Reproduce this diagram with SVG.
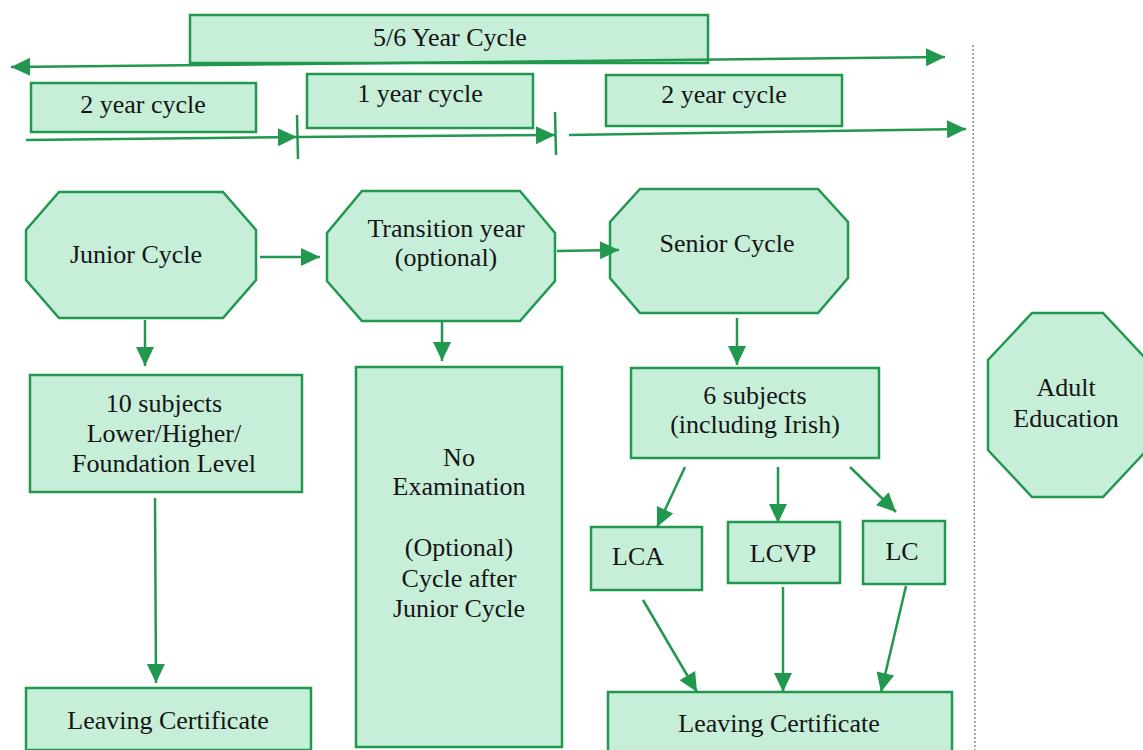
<svg xmlns="http://www.w3.org/2000/svg" width="1143" height="750" viewBox="0 0 1143 750">
  <style>
    .box { fill: #c6eed8; stroke: #22984f; stroke-width: 2.5; }
    .lbl { font-family: "Liberation Serif", "Times New Roman", serif; font-size: 26px; fill: #151515; text-anchor: middle; }
    .edge { stroke: #22984f; stroke-width: 2.5; fill: none; }
    .tick { stroke: #22984f; stroke-width: 2.5; }
    .divider { stroke: #8a8a8a; stroke-width: 1.5; stroke-dasharray: 2 2; }
  </style>
  <defs>
    <marker id="arrow" markerUnits="userSpaceOnUse" markerWidth="22" markerHeight="22" viewBox="0 0 22 22" refX="20" refY="11" orient="auto-start-reverse">
      <path d="M1,2 L20,11 L1,20 Z" fill="#22984f"/>
    </marker>
  </defs>

  <rect width="1143" height="750" fill="#ffffff"/>

  <!-- timeline header -->
  <g id="cycle-5-6">
    <rect class="box" x="190" y="15" width="518" height="48"/>
    <text class="lbl" x="450" y="46">5/6 Year Cycle</text>
  </g>
  <g id="cycle-2-junior">
    <rect class="box" x="31" y="83" width="225" height="49"/>
    <text class="lbl" x="143" y="113">2 year cycle</text>
  </g>
  <g id="cycle-1">
    <rect class="box" x="307" y="74" width="226" height="54"/>
    <text class="lbl" x="420" y="102">1 year cycle</text>
  </g>
  <g id="cycle-2-senior">
    <rect class="box" x="606" y="75" width="236" height="51"/>
    <text class="lbl" x="724" y="103">2 year cycle</text>
  </g>

  <!-- vertical divider before adult education -->
  <line class="divider" x1="973" y1="45" x2="975" y2="750"/>

  <!-- main stages -->
  <g id="junior-cycle">
    <polygon class="box" points="59,192 223,192 256,230 256,280 223,318 59,318 26,280 26,230"/>
    <text class="lbl" x="136" y="263">Junior Cycle</text>
  </g>
  <g id="transition-year">
    <polygon class="box" points="362,191 520,191 555,233 555,281 520,321 362,321 327,281 327,233"/>
    <text class="lbl" x="446" y="237">Transition year</text>
    <text class="lbl" x="446" y="266">(optional)</text>
  </g>
  <g id="senior-cycle">
    <polygon class="box" points="640,189 818,189 848,222 848,278 818,313 640,313 610,278 610,222"/>
    <text class="lbl" x="727" y="252">Senior Cycle</text>
  </g>
  <g id="adult-education">
    <polygon class="box" points="1032,313 1103,313 1147,360 1147,450 1103,497 1032,497 988,450 988,360"/>
    <text class="lbl" x="1066" y="396">Adult</text>
    <text class="lbl" x="1066" y="427">Education</text>
  </g>

  <g id="junior-subjects">
    <rect class="box" x="30" y="375" width="272" height="117"/>
    <text class="lbl" x="164" y="412">10 subjects</text>
    <text class="lbl" x="164" y="442">Lower/Higher/</text>
    <text class="lbl" x="164" y="472">Foundation Level</text>
  </g>
  <g id="no-examination">
    <rect class="box" x="356" y="367" width="206" height="380"/>
    <text class="lbl" x="459" y="466">No</text>
    <text class="lbl" x="459" y="495">Examination</text>
    <text class="lbl" x="459" y="556">(Optional)</text>
    <text class="lbl" x="459" y="587">Cycle after</text>
    <text class="lbl" x="459" y="617">Junior Cycle</text>
  </g>
  <g id="senior-subjects">
    <rect class="box" x="631" y="368" width="248" height="90"/>
    <text class="lbl" x="755" y="404">6 subjects</text>
    <text class="lbl" x="755" y="433">(including Irish)</text>
  </g>

  <g id="lca">
    <rect class="box" x="591" y="527" width="111" height="63"/>
    <text class="lbl" x="638" y="565">LCA</text>
  </g>
  <g id="lcvp">
    <rect class="box" x="728" y="522" width="112" height="61"/>
    <text class="lbl" x="783" y="562">LCVP</text>
  </g>
  <g id="lc">
    <rect class="box" x="863" y="521" width="82" height="63"/>
    <text class="lbl" x="902" y="560">LC</text>
  </g>

  <g id="leaving-cert-junior">
    <rect class="box" x="26" y="688" width="285" height="62"/>
    <text class="lbl" x="168" y="729">Leaving Certificate</text>
  </g>
  <g id="leaving-cert-senior">
    <rect class="box" x="608" y="692" width="344" height="60"/>
    <text class="lbl" x="779" y="732">Leaving Certificate</text>
  </g>

  <!-- connectors -->
  <g id="connectors">
    <line class="edge" x1="11" y1="67" x2="945" y2="57" marker-start="url(#arrow)" marker-end="url(#arrow)"/>
    <line class="edge" x1="26" y1="140" x2="297" y2="137" marker-end="url(#arrow)"/>
    <line class="tick" x1="297" y1="115" x2="298" y2="159"/>
    <line class="edge" x1="298" y1="137" x2="555" y2="135" marker-end="url(#arrow)"/>
    <line class="tick" x1="555" y1="112" x2="556" y2="155"/>
    <line class="edge" x1="569" y1="135" x2="966" y2="129" marker-end="url(#arrow)"/>

    <line class="edge" x1="260" y1="257" x2="320" y2="257" marker-end="url(#arrow)"/>
    <line class="edge" x1="557" y1="251" x2="619" y2="250" marker-end="url(#arrow)"/>

    <line class="edge" x1="145" y1="320" x2="145" y2="366" marker-end="url(#arrow)"/>
    <line class="edge" x1="442" y1="322" x2="442" y2="361" marker-end="url(#arrow)"/>
    <line class="edge" x1="737" y1="318" x2="737" y2="365" marker-end="url(#arrow)"/>

    <line class="edge" x1="155" y1="498" x2="156" y2="683" marker-end="url(#arrow)"/>

    <line class="edge" x1="685" y1="467" x2="657" y2="527" marker-end="url(#arrow)"/>
    <line class="edge" x1="778" y1="467" x2="778" y2="523" marker-end="url(#arrow)"/>
    <line class="edge" x1="850" y1="467" x2="896" y2="512" marker-end="url(#arrow)"/>

    <line class="edge" x1="643" y1="600" x2="697" y2="692" marker-end="url(#arrow)"/>
    <line class="edge" x1="783" y1="587" x2="783" y2="692" marker-end="url(#arrow)"/>
    <line class="edge" x1="906" y1="586" x2="881" y2="692" marker-end="url(#arrow)"/>
  </g>
</svg>
